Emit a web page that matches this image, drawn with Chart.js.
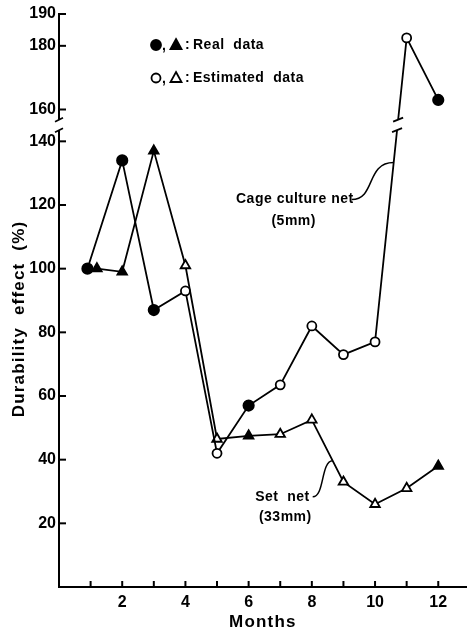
<!DOCTYPE html>
<html>
<head>
<meta charset="utf-8">
<script src="https://cdn.jsdelivr.net/npm/chart.js@4/dist/chart.umd.min.js"></script>
<style>
  html, body { margin: 0; padding: 0; background: #fff; }
  canvas { display: block; }
</style>
</head>
<body>
<canvas id="chart" width="474" height="632"></canvas>
<script>
"use strict";

// --- data ---
const cageMonths = [0.9, 2, 3, 4, 5, 6, 7, 8, 9, 10, 11, 12];
const cageValues = [100, 134, 87, 93, 42, 57, 63.5, 82, 73, 77, 182.5, 163];
const cageReal   = [1, 1, 1, 0, 0, 1, 0, 0, 0, 0, 0, 1];

const setMonths = [1.2, 2, 3, 4, 5, 6, 7, 8, 9, 10, 11, 12];
const setValues = [100, 99, 137, 101, 46.5, 47.5, 48, 52.5, 33, 26, 31, 38];
const setReal   = [1, 1, 1, 0, 0, 1, 0, 0, 0, 0, 0, 1];

const xTicks = [1, 2, 3, 4, 5, 6, 7, 8, 9, 10, 11, 12];
const yTicks = [20, 40, 60, 80, 100, 120, 140, 160, 180, 190];

// broken axis: everything above BREAK is drawn GAP units lower
const BREAK = 150;
const GAP = 10;
const toPlot = v => (v > BREAK ? v - GAP : v);
const fromPlot = v => (v > BREAK - GAP + 2 ? v + GAP : v);

const FONT = "'Liberation Sans', Arial, sans-serif";

function points(xs, ys) {
  return xs.map((m, i) => ({ x: m, y: toPlot(ys[i]) }));
}

function drawMarker(ctx, kind, filled, cx, cy) {
  ctx.beginPath();
  if (kind === "circle") {
    ctx.arc(cx, cy, filled ? 5 : 4.5, 0, Math.PI * 2);
  } else {
    ctx.moveTo(cx, cy - 6);
    ctx.lineTo(cx + 5.5, cy + 4);
    ctx.lineTo(cx - 5.5, cy + 4);
    ctx.closePath();
  }
  ctx.fillStyle = filled ? "#000" : "#fff";
  ctx.fill();
  ctx.lineWidth = 1.8;
  ctx.strokeStyle = "#000";
  ctx.stroke();
}

function line(ctx, x1, y1, x2, y2) {
  ctx.beginPath();
  ctx.moveTo(x1, y1);
  ctx.lineTo(x2, y2);
  ctx.stroke();
}

function along(p, q, t) {
  return { x: p.x + (q.x - p.x) * t, y: p.y + (q.y - p.y) * t };
}

const decor = {
  id: "decor",
  afterDraw(chart) {
    const { ctx, chartArea: a, scales: { x, y } } = chart;
    ctx.save();
    ctx.strokeStyle = "#000";
    ctx.fillStyle = "#000";
    ctx.lineWidth = 2;

    // inward tick marks
    for (const t of x.ticks) {
      const px = x.getPixelForValue(t.value);
      line(ctx, px, a.bottom, px, a.bottom - 6);
    }
    for (const t of y.ticks) {
      const py = y.getPixelForValue(t.value);
      line(ctx, a.left, py, a.left + 7, py);
    }

    // break on the y axis
    const bLo = y.getPixelForValue(143.5);
    const bHi = y.getPixelForValue(146.8);
    ctx.fillStyle = "#fff";
    ctx.fillRect(a.left - 3, bHi, 6, bLo - bHi);
    ctx.lineWidth = 1.8;
    line(ctx, a.left - 4, bHi + 2, a.left + 4, bHi - 2);
    line(ctx, a.left - 4, bLo + 2, a.left + 4, bLo - 2);

    // break on the cage culture line between months 10 and 11
    const cm = chart.getDatasetMeta(0).data;
    const p10 = cm[9], p11 = cm[10];
    const tLo = (p10.y - bLo) / (p10.y - p11.y);
    const tHi = (p10.y - bHi) / (p10.y - p11.y);
    const lo = along(p10, p11, tLo), hi = along(p10, p11, tHi);
    ctx.strokeStyle = "#fff";
    ctx.lineWidth = 5;
    line(ctx, lo.x, lo.y, hi.x, hi.y);
    ctx.strokeStyle = "#000";
    ctx.lineWidth = 1.8;
    line(ctx, hi.x - 5, hi.y + 2, hi.x + 5, hi.y - 2);
    line(ctx, lo.x - 5, lo.y + 2, lo.x + 5, lo.y - 2);

    // legend
    ctx.fillStyle = "#000";
    ctx.font = "bold 14px " + FONT;
    ctx.letterSpacing = "0.5px";
    ctx.textBaseline = "middle";
    ctx.textAlign = "left";
    const lx = a.left + 97, ly1 = a.top + 31, ly2 = a.top + 64;
    drawMarker(ctx, "circle", true, lx, ly1);
    drawMarker(ctx, "triangle", true, lx + 20, ly1);
    drawMarker(ctx, "circle", false, lx, ly2);
    drawMarker(ctx, "triangle", false, lx + 20, ly2);
    ctx.fillStyle = "#000";
    for (const ly of [ly1, ly2]) {
      ctx.fillText(",", lx + 6, ly + 1);
      ctx.fillText(":", lx + 29, ly);
    }
    ctx.fillText("Real  data", lx + 37, ly1);
    ctx.fillText("Estimated  data", lx + 37, ly2);

    // curved leaders and series labels
    ctx.lineWidth = 1.5;
    const cageAnchor = along(p10, p11, 0.59);
    const cs = { x: cageAnchor.x - 42, y: cageAnchor.y + 37 };
    ctx.beginPath();
    ctx.moveTo(cs.x, cs.y);
    ctx.bezierCurveTo(cs.x + 24, cs.y, cs.x + 14, cageAnchor.y, cageAnchor.x, cageAnchor.y);
    ctx.stroke();
    ctx.textAlign = "right";
    ctx.fillText("Cage culture net", cs.x + 2, cs.y);
    ctx.textAlign = "center";
    ctx.fillText("(5mm)", cs.x - 58, cs.y + 22);

    const sm = chart.getDatasetMeta(1).data;
    const setAnchor = along(sm[7], sm[8], 0.66);
    const ss = { x: setAnchor.x - 20, y: setAnchor.y + 36 };
    ctx.beginPath();
    ctx.moveTo(ss.x, ss.y);
    ctx.bezierCurveTo(ss.x + 12, ss.y, ss.x + 8, setAnchor.y, setAnchor.x, setAnchor.y);
    ctx.stroke();
    ctx.textAlign = "right";
    ctx.fillText("Set  net", ss.x - 3, ss.y);
    ctx.fillText("(33mm)", ss.x - 1, ss.y + 20);

    // axis titles
    ctx.font = "bold 17px " + FONT;
    ctx.letterSpacing = "1.2px";
    ctx.textAlign = "center";
    ctx.fillText("Months", (a.left + a.right) / 2, 622);
    ctx.translate(19, 319);
    ctx.rotate(-Math.PI / 2);
    ctx.fillText("Durability  effect  (%)", 0, 0);
    ctx.restore();
  }
};

function dataset(xs, ys, real, style, radius) {
  return {
    data: points(xs, ys),
    borderColor: "#000",
    borderWidth: 1.8,
    tension: 0,
    pointStyle: style,
    pointRadius: real.map(r => (r ? radius[0] : radius[1])),
    pointBorderWidth: 1.8,
    pointBorderColor: "#000",
    pointBackgroundColor: real.map(r => (r ? "#000" : "#fff")),
  };
}

new Chart(document.getElementById("chart"), {
  type: "line",
  data: {
    datasets: [
      dataset(cageMonths, cageValues, cageReal, "circle", [5.2, 4.5]),
      dataset(setMonths, setValues, setReal, "triangle", [5.5, 5.5]),
    ],
  },
  options: {
    responsive: false,
    animation: false,
    layout: { padding: { top: 14, right: 1, left: 0, bottom: 0 } },
    plugins: { legend: { display: false }, tooltip: { enabled: false } },
    scales: {
      x: {
        type: "linear",
        min: 0,
        max: 12.9,
        afterFit: s => { s.height = 45; },
        afterBuildTicks: s => { s.ticks = xTicks.map(v => ({ value: v })); },
        grid: { display: false, drawTicks: false },
        border: { display: true, color: "#000", width: 2 },
        ticks: {
          autoSkip: false,
          maxRotation: 0,
          padding: 6,
          color: "#000",
          font: { family: FONT, size: 16, weight: "bold" },
          callback: v => (v % 2 === 0 ? String(v) : ""),
        },
      },
      y: {
        type: "linear",
        min: 0,
        max: 180,
        afterFit: s => { s.width = 59; },
        afterBuildTicks: s => { s.ticks = yTicks.map(v => ({ value: toPlot(v) })); },
        grid: { display: false, drawTicks: false },
        border: { display: true, color: "#000", width: 2 },
        ticks: {
          padding: 3,
          color: "#000",
          font: { family: FONT, size: 16, weight: "bold" },
          callback: v => String(fromPlot(v)),
        },
      },
    },
  },
  plugins: [decor],
});
</script>
</body>
</html>
